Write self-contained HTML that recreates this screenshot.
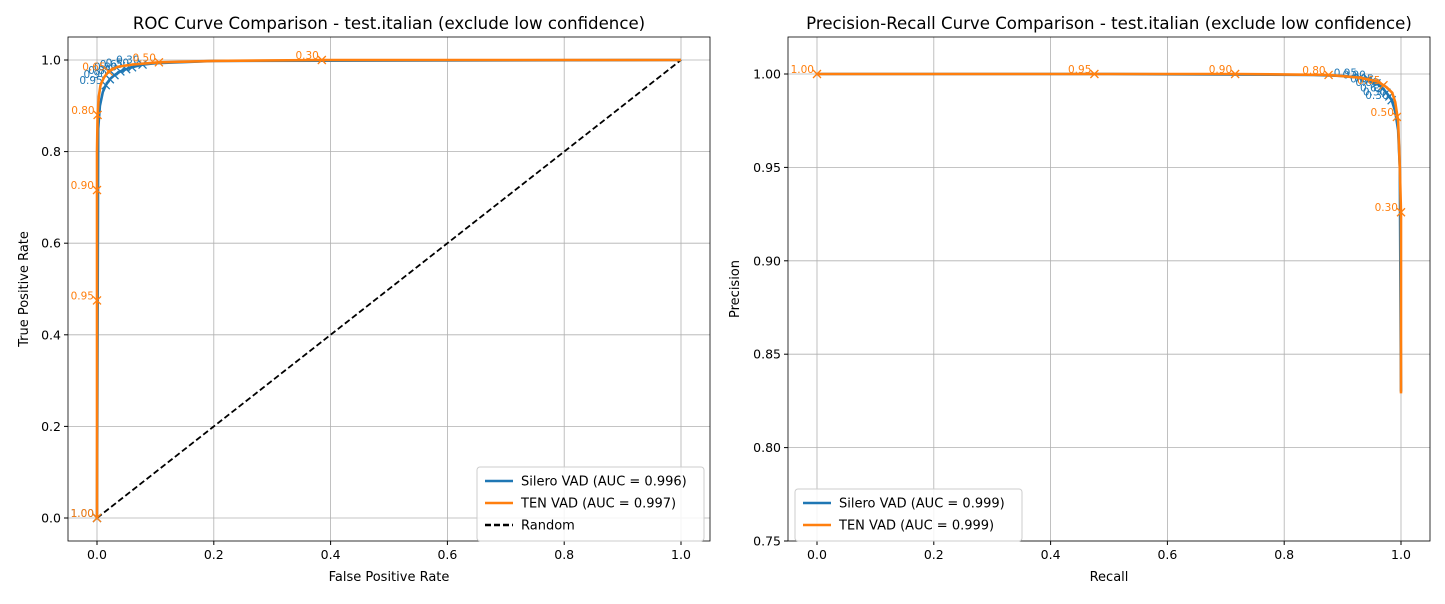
<!DOCTYPE html>
<html><head><meta charset="utf-8"><style>
body{margin:0;background:#fff;font-family:"Liberation Sans","DejaVu Sans",sans-serif}
svg text{font-family:"DejaVu Sans","Liberation Sans",sans-serif}
</style></head><body>
<svg id="c" width="1445" height="599" viewBox="0 0 1445 599" xmlns="http://www.w3.org/2000/svg"></svg>
<script>
const rocXTicks=[0,0.2,0.4,0.6,0.8,1.0];
const rocYTicks=[0,0.2,0.4,0.6,0.8,1.0];
const prXTicks=[0,0.2,0.4,0.6,0.8,1.0];
const prYTicks=[0.75,0.80,0.85,0.90,0.95,1.00];
const tenRocFpr=[0,0,0,0,0.001,0.003,0.006,0.012,0.02,0.035,0.06,0.106,0.2,0.385,0.7,1];
const tenRocTpr=[0,0.475,0.716,0.80,0.88,0.92,0.945,0.962,0.975,0.985,0.99,0.995,0.998,1.0,1.0,1];
const silRocFpr=[0,0.002,0.005,0.01,0.015,0.022,0.03,0.04,0.05,0.06,0.078,0.1,0.2,1];
const silRocTpr=[0,0.85,0.9,0.93,0.945,0.958,0.967,0.975,0.98,0.984,0.99,0.993,0.998,1];
const tenRocMk=[[0,0,"1.00"],[0,0.475,"0.95"],[0,0.716,"0.90"],[0.001,0.88,"0.80"],[0.02,0.975,"0.65"],[0.106,0.995,"0.50"],[0.385,1.0,"0.30"]];
const silRocMk=[[0,0,"1.00"],[0.015,0.945,"0.95"],[0.022,0.958,"0.90"],[0.03,0.967,"0.85"],[0.04,0.975,"0.80"],[0.05,0.98,"0.65"],[0.06,0.984,"0.50"],[0.078,0.99,"0.30"]];
const tenPrRec=[0,0.475,0.716,0.876,0.93,0.96,0.975,0.985,0.99,0.995,0.998,1.0,1.0];
const tenPrPre=[1,1,1,0.9995,0.998,0.996,0.993,0.99,0.985,0.975,0.95,0.926,0.829];
const silPrRec=[0,0.5,0.85,0.9,0.93,0.945,0.958,0.967,0.975,0.98,0.984,0.99,0.995,0.998,1];
const silPrPre=[1,1,0.9995,0.999,0.998,0.997,0.995,0.993,0.99,0.988,0.986,0.98,0.97,0.95,0.83];
const tenPrMk=[[0,1,"1.00"],[0.475,1,"0.95"],[0.716,1,"0.90"],[0.876,0.9995,"0.80"],[0.97,0.994,"0.65"],[0.993,0.977,"0.50"],[1.0,0.926,"0.30"]];
const silPrMk=[[0.93,0.998,"0.95"],[0.945,0.997,"0.90"],[0.958,0.995,"0.85"],[0.967,0.993,"0.80"],[0.975,0.99,"0.65"],[0.98,0.988,"0.50"],[0.984,0.986,"0.30"]];
const svg=document.getElementById('c');const NS='http://www.w3.org/2000/svg';
function el(t,a,p){const e=document.createElementNS(NS,t);for(const k in a)e.setAttribute(k,a[k]);(p||svg).appendChild(e);return e;}
function txt(s,a,p){const e=el('text',a,p);e.textContent=s;return e;}
function panel(o){
 const g=el('g',{});
 const L=o.L,R=o.R,T=37,B=541;
 const sx=v=>o.x0+(v-o.xmin)*o.xs, sy=v=>o.y0-(v-o.ymin)*o.ys;
 el('rect',{x:L,y:T,width:R-L,height:B-T,fill:'#fff'},g);
 o.xt.forEach(v=>{const x=sx(v);el('line',{x1:x,x2:x,y1:T,y2:B,stroke:'#b0b0b0','stroke-width':0.8},g);el('line',{x1:x,x2:x,y1:B,y2:B+4,stroke:'#000'},g);
  const t=txt(v.toFixed(1),{x:x,y:B+18,'font-size':12.5,'text-anchor':'middle'},g);});
 o.yt.forEach(v=>{const y=sy(v);el('line',{x1:L,x2:R,y1:y,y2:y,stroke:'#b0b0b0','stroke-width':0.8},g);el('line',{x1:L-4,x2:L,y1:y,y2:y,stroke:'#000'},g);
  const t=txt(v.toFixed(o.yd),{x:L-7,y:y+4.5,'font-size':12.5,'text-anchor':'end'},g);});
 o.series.forEach(s=>{
  const d=s.x.map((v,i)=>(i?'L':'M')+sx(v).toFixed(1)+','+sy(s.y[i]).toFixed(1)).join('');
  const p=el('path',{d:d,fill:'none',stroke:s.c,'stroke-width':s.w||2.6,'stroke-dasharray':s.dash||'none','stroke-linejoin':'round'},g);
  (s.mk||[]).forEach(m=>{const x=sx(m[0]),y=sy(m[1]);
   el('path',{d:`M${x-4},${y-4}L${x+4},${y+4}M${x-4},${y+4}L${x+4},${y-4}`,stroke:s.c,'stroke-width':1.3},g);
   const t=txt(m[2],{x:x-3,y:y-1,'font-size':10.5,'text-anchor':'end',fill:s.c},g);});
 });
 el('rect',{x:L,y:T,width:R-L,height:B-T,fill:'none',stroke:'#000','stroke-width':0.8},g);
 const ti=txt(o.title,{x:(L+R)/2,y:T-8,'font-size':16.6,'text-anchor':'middle'},g);
 const xl=txt(o.xl,{x:(L+R)/2,y:581,'font-size':13,'text-anchor':'middle'},g);
 const yl=txt(o.yl,{x:0,y:0,'font-size':13,'text-anchor':'middle',transform:`translate(${o.ylx},${(T+B)/2}) rotate(-90)`},g);
 const lg=el('g',{},g);
 const lh=o.leg.length*22+8;
 el('rect',{x:o.lx,y:o.ly,width:o.lw,height:lh,rx:3,fill:'#fff','fill-opacity':0.85,stroke:'#ccc'},lg);
 o.leg.forEach((e,i)=>{const y=o.ly+14+i*22;el('line',{x1:o.lx+8,x2:o.lx+36,y1:y,y2:y,stroke:e.c,'stroke-width':2.6,'stroke-dasharray':e.dash||'none'},lg);
  const t=txt(e.t,{x:o.lx+44,y:y+4.5,'font-size':13},lg);});
}
const B='#1f77b4',O='#ff7f0e';
panel({name:'roc-panel',L:68,R:710,x0:97,xmin:0,xs:584,y0:518,ymin:0,ys:458,xt:rocXTicks,yt:rocYTicks,yd:1,
 title:'ROC Curve Comparison - test.italian (exclude low confidence)',xl:'False Positive Rate',yl:'True Positive Rate',ylx:28,
 series:[{n:'random-line',x:[0,1],y:[0,1],c:'#000',dash:'6,3',w:1.8},{n:'silero-roc-line',x:silRocFpr,y:silRocTpr,c:B,mk:silRocMk},{n:'ten-roc-line',x:tenRocFpr,y:tenRocTpr,c:O,mk:tenRocMk}],
 lx:477,ly:467,lw:227,leg:[{t:'Silero VAD (AUC = 0.996)',c:B},{t:'TEN VAD (AUC = 0.997)',c:O},{t:'Random',c:'#000',dash:'6,3'}]});
panel({name:'pr-panel',L:788,R:1430,x0:817,xmin:0,xs:584,y0:541,ymin:0.75,ys:1868,xt:prXTicks,yt:prYTicks,yd:2,
 title:'Precision-Recall Curve Comparison - test.italian (exclude low confidence)',xl:'Recall',yl:'Precision',ylx:739,
 series:[{n:'silero-pr-line',x:silPrRec,y:silPrPre,c:B,mk:silPrMk},{n:'ten-pr-line',x:tenPrRec,y:tenPrPre,c:O,mk:tenPrMk}],
 lx:795,ly:489,lw:227,leg:[{t:'Silero VAD (AUC = 0.999)',c:B},{t:'TEN VAD (AUC = 0.999)',c:O}]});
</script>
</body></html>
